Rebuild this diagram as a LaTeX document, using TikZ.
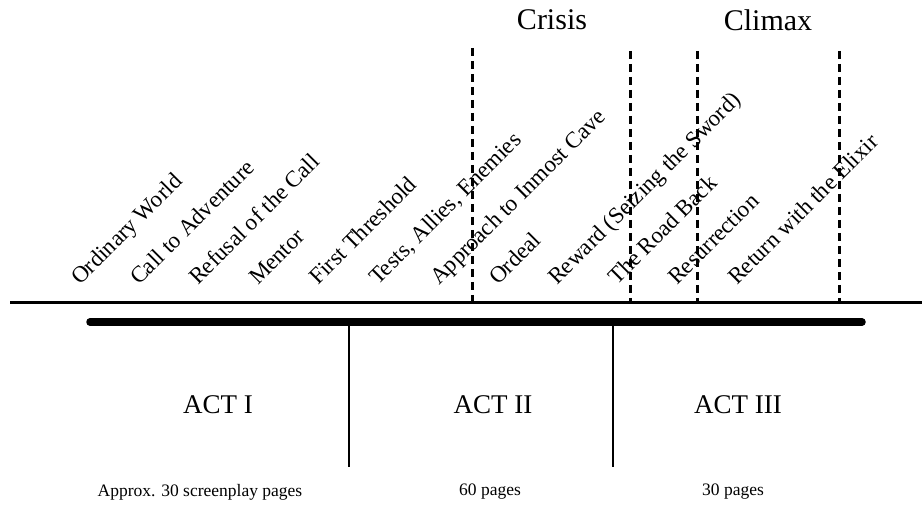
\documentclass[tikz,border=0pt]{standalone}
\usepackage{fontspec}
\setmainfont{Liberation Serif}
\usepackage{tikz}

\tikzset{
  stage/.style={rotate=45, anchor=base west, inner sep=0pt, font=\fontsize{23}{26}\selectfont},
  actname/.style={font=\fontsize{27}{30}\selectfont},
  pagecount/.style={font=\fontsize{17.5}{20}\selectfont},
  peak/.style={font=\fontsize{30}{34}\selectfont},
  marker/.style={line width=3pt, dash pattern=on 8pt off 5pt}
}

\begin{document}
\begin{tikzpicture}[x=1pt, y=1pt]
			\useasboundingbox (0,0) rectangle (922,515);

			% time line and act bar
			\coordinate (tl) at (10,212);
			\coordinate (tr) at (922,212);
			\coordinate (bl) at (90,193);
			\coordinate (br) at (862,193);
			\draw[line width=3pt] (tl)--(tr);
			\draw[line width=7.5pt, line cap=round] (bl)--(br);

			% act dividers
			\coordinate (d1a) at (349,193);
			\coordinate (d1b) at (349,48);
			\coordinate (d2a) at (613,193);
			\coordinate (d2b) at (613,48);
			\draw[line width=2.6pt] (d1a)--(d1b);
			\draw[line width=2.6pt] (d2a)--(d2b);

			% stages
			\node[stage] (ow) at (80,229) {Ordinary World};
			\node[stage] (ca) at (139,229) {Call to Adventure};
			\node[stage] (rc) at (198,229) {Refusal of the Call};
			\node[stage] (me) at (258,229) {Mentor};
			\node[stage] (ft) at (318,229) {First Threshold};
			\node[stage] (ta) at (378,229) {Tests, Allies, Enemies};
			\node[stage] (ap) at (439,229) {Approach to Inmost Cave};
			\node[stage] (or) at (498,229) {Ordeal};
			\node[stage] (rw) at (557,229) {Reward (Seizing the Sword)};
			\node[stage] (rb) at (617,229) {The Road Back};
			\node[stage] (rs) at (677,229) {Resurrection};
			\node[stage] (re) at (737,229) {Return with the Elixir};

			% crisis and climax markers
			\node[peak] (cr) at (552,495) {Crisis};
			\node[peak] (cl) at (768,495) {Climax};
			\coordinate (m1a) at (472,467);
			\coordinate (m1b) at (472,212);
			\coordinate (m2a) at (630,464);
			\coordinate (m2b) at (630,212);
			\coordinate (m3a) at (697,464);
			\coordinate (m3b) at (697,212);
			\coordinate (m4a) at (839,464);
			\coordinate (m4b) at (839,212);
			\draw[marker] (m1a)--(m1b);
			\draw[marker] (m2a)--(m2b);
			\draw[marker] (m3a)--(m3b);
			\draw[marker] (m4a)--(m4b);

			% acts
			\node[actname] (a1) at (218,110) {ACT I};
			\node[actname] (a2) at (493,110) {ACT II};
			\node[actname] (a3) at (738,110) {ACT III};
			\node[pagecount] (p1) at (200,23) {Approx. 30 screenplay pages};
			\node[pagecount] (p2) at (490,23) {60 pages};
			\node[pagecount] (p3) at (733,23) {30 pages};

		\end{tikzpicture}
\end{document}
